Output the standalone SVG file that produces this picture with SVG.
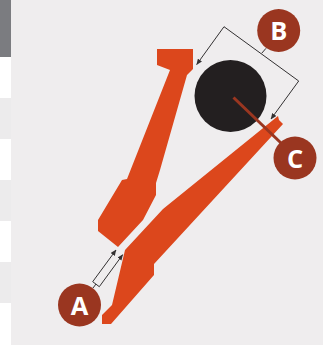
<svg xmlns="http://www.w3.org/2000/svg" width="323" height="345" viewBox="0 0 323 345">
  <style>
    .blade { fill: #dc471c; }
    .badge { fill: #9a3620; }
    .label { fill: #ffffff; font-family: "Open Sans", "Liberation Sans", sans-serif; font-weight: 700; font-size: 25.5px; text-anchor: middle; }
    .lead { fill: none; stroke: #333132; stroke-width: 1; }
    .arrow { fill: none; stroke: #333132; stroke-width: 1; marker-end: url(#head); }
  </style>
  <defs>
    <marker id="head" markerUnits="userSpaceOnUse" markerWidth="6" markerHeight="5" refX="5.5" refY="2.5" orient="auto">
      <path d="M0 0L6 2.5L0 5Z" fill="#333132"/>
    </marker>
  </defs>
  <rect width="323" height="345" fill="#ffffff"/>
  <rect x="11" y="0" width="312" height="345" fill="#efedee"/>
  <rect x="0" y="0" width="11" height="57" fill="#7b7c80"/>
  <rect x="0" y="98" width="11" height="41" fill="#ecebec"/>
  <rect x="0" y="180" width="11" height="41" fill="#ecebec"/>
  <rect x="0" y="262" width="11" height="41" fill="#ecebec"/>
  <g id="upper-blade"><polygon class="blade" points="157,49 193,49 193,69 187,75 160,170 156,183 156,195 143,220 118,247 98,231 98,220 122,180 127,179 170,70 157,65"/></g>
  <g id="lower-blade"><polygon class="blade" points="278,116 279,120 283,124 154,264 154,275 111,324 102,324 102,315 112,305 125,250 163,209"/></g>
  <g id="disc"><circle cx="230.5" cy="96" r="36" fill="#231f20"/></g>
  <g id="connectors">
    <path class="arrow" d="M224 26.7L196.7 64.5"/>
    <path class="lead" d="M224 26.7L298.7 81"/>
    <path class="arrow" d="M298.7 81L271 119"/>
    <path class="lead" d="M266 48.3L261.7 53.3"/>
    <path class="arrow" d="M92.7 281.7L116 250"/>
    <path class="lead" d="M92.7 281.7L99.3 286.7"/>
    <path class="arrow" d="M99.3 286.7L122.7 254.7"/>
    <path class="lead" d="M96 284L93 288"/>
    <path d="M233.5 97.5L281 143" fill="none" stroke="#9a3620" stroke-width="3"/>
  </g>
  <g id="node-a"><circle class="badge" cx="79.5" cy="305" r="21.5"/><text class="label" x="79.5" y="314.5">A</text></g>
  <g id="node-b"><circle class="badge" cx="278.7" cy="30.5" r="21.5"/><text class="label" x="278.7" y="39.5">B</text></g>
  <g id="node-c"><circle class="badge" cx="295" cy="158" r="21.5"/><text class="label" x="295" y="167.5">C</text></g>
</svg>
